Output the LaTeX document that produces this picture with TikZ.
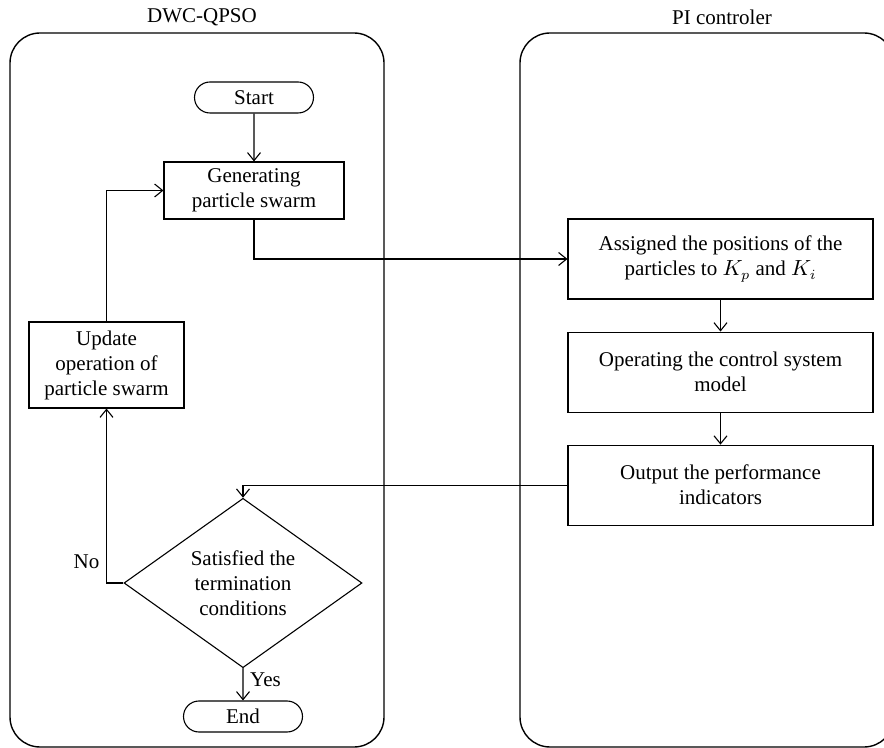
\documentclass[tikz,border=0pt]{standalone}
\usepackage{fontspec}
\setmainfont{Liberation Serif}
\usepackage{tikz}
\usetikzlibrary{arrows.meta, positioning, shapes.geometric, shapes.misc}

\begin{document}
\begin{tikzpicture}[
  x=1pt, y=-1pt,
  line width=0.55pt,
  font=\fontsize{10.5pt}{12.5pt}\selectfont,
  lane/.style={rectangle, draw, rounded corners=15pt, line width=0.7pt, minimum width=187pt, minimum height=357pt},
  term/.style={rounded rectangle, draw, minimum width=61.5pt, minimum height=15.5pt, inner sep=1pt},
  proc/.style={rectangle, draw, align=center, inner sep=2pt},
  wide/.style={proc, minimum width=152.5pt, minimum height=40pt},
  decision/.style={diamond, draw, align=center, inner sep=0pt, minimum width=119pt, minimum height=76.5pt},
  >={Straight Barb[length=4pt, width=6.5pt]},
  node distance=16pt
]
\useasboundingbox (0,0) rectangle (442,374);
\clip (0,0) rectangle (442,374);

% swimlanes
\node[lane] (lanedwc) at (98.5,195) {};
\node[lane] (lanepi) at (353.5,195) {};
\node (titledwc) at (101,8.5) {DWC-QPSO};
\node (titlepi) at (361,8.5) {PI controler};

% DWC-QPSO side
\node[term] (start) at (127,48.75) {Start};
\node[proc, minimum width=90pt, minimum height=28.5pt] (gen) at (127,95.25) {Generating\\particle swarm};
\node[proc, minimum width=77.5pt, minimum height=43pt] (upd) at (53.25,182.5) {Update\\operation of\\particle swarm};
\node[decision] (dec) at (121.5,291.5) {Satisfied the\\termination\\conditions};
\node[term] (stop) at (121.5,358.25) {End};

% PI controler side
\node[wide] (asg) at (360.25,129.5) {Assigned the positions of the\\particles to $K_p$ and $K_i$};
\node[wide, below=of asg] (ope) {Operating the control system\\model};
\node[wide, below=of ope] (out) {Output the performance\\indicators};

\draw[->] (start) -- (gen);
\draw[->] (gen.south) |- (asg.west);
\draw[->] (asg) -- (ope);
\draw[->] (ope) -- (out);
\draw[->] (out.west) -| (dec.north);
\draw[->] (dec) -- node[right, pos=0.35]{Yes} (stop);
\draw[->] (dec.west) -| node[left, pos=0.56]{No} (upd.south);
\draw[->] (upd.north) |- (gen.west);
\end{tikzpicture}
\end{document}
